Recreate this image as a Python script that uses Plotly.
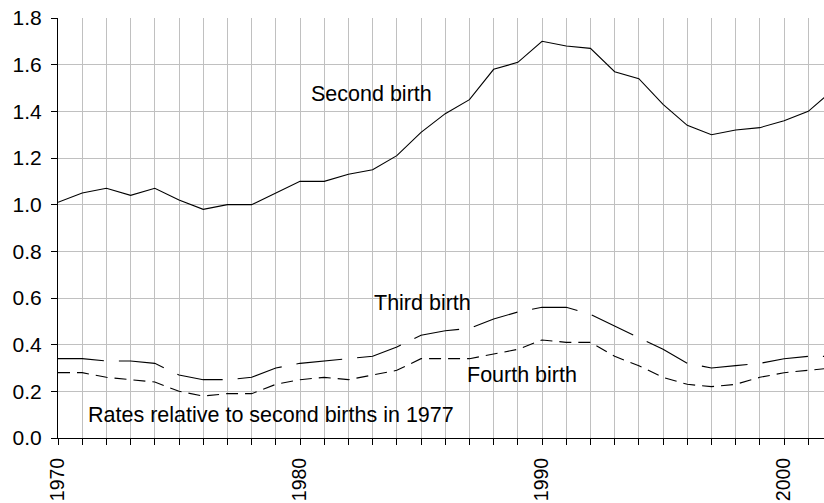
import plotly.graph_objects as go

years = list(range(1970, 2003))

second = [1.01, 1.05, 1.07, 1.04, 1.07, 1.02, 0.98, 1.00, 1.00, 1.05, 1.10,
          1.10, 1.13, 1.15, 1.21, 1.31, 1.39, 1.45, 1.58, 1.61, 1.70, 1.68,
          1.67, 1.57, 1.54, 1.43, 1.34, 1.30, 1.32, 1.33, 1.36, 1.40, 1.49]
third = [0.34, 0.34, 0.33, 0.33, 0.32, 0.27, 0.25, 0.25, 0.26, 0.30, 0.32,
         0.33, 0.34, 0.35, 0.39, 0.44, 0.46, 0.47, 0.51, 0.54, 0.56, 0.56,
         0.53, 0.48, 0.43, 0.38, 0.32, 0.30, 0.31, 0.32, 0.34, 0.35, 0.35]
fourth = [0.28, 0.28, 0.26, 0.25, 0.24, 0.20, 0.18, 0.19, 0.19, 0.23, 0.25,
          0.26, 0.25, 0.27, 0.29, 0.34, 0.34, 0.34, 0.36, 0.38, 0.42, 0.41,
          0.41, 0.35, 0.31, 0.26, 0.23, 0.22, 0.23, 0.26, 0.28, 0.29, 0.30]

fam = "Arial, Liberation Sans, sans-serif"
fnt = dict(family=fam, size=21.5, color="black")
ytickfnt = dict(family=fam, size=21, color="black")
xtickfnt = dict(family=fam, size=19.5, color="black")

fig = go.Figure()
fig.add_trace(go.Scatter(x=years, y=second, mode="lines",
                         line=dict(color="black", width=1.1)))
fig.add_trace(go.Scatter(x=years, y=third, mode="lines",
                         line=dict(color="black", width=1.1, dash="46px,15px")))
fig.add_trace(go.Scatter(x=years, y=fourth, mode="lines",
                         line=dict(color="black", width=1.1, dash="12px,7px")))

# labels on the plot
fig.add_annotation(x=1982.95, y=1.475, text="Second birth", showarrow=False, font=fnt)
fig.add_annotation(x=1985.04, y=0.58, text="Third birth", showarrow=False, font=fnt)
fig.add_annotation(x=1989.16, y=0.27, text="Fourth birth", showarrow=False, font=fnt)
fig.add_annotation(x=1978.82, y=0.10, text="Rates relative to second births in 1977",
                   showarrow=False, font=fnt)

fig.update_layout(
    width=824, height=503,
    margin=dict(l=58, r=0, t=18, b=65),
    paper_bgcolor="white", plot_bgcolor="white",
    showlegend=False,
    font=fnt,
    xaxis=dict(range=[1970, 2001.65], dtick=10, tick0=1970, automargin=False,
               tickangle=-90, ticks="outside", ticklen=6, tickcolor="black",
               tickfont=xtickfnt,
               showline=True, linecolor="black", linewidth=1,
               showgrid=True, gridcolor="#c0c0c0", gridwidth=1, zeroline=False,
               minor=dict(dtick=1, showgrid=True, gridcolor="#c0c0c0",
                          ticks="outside", ticklen=6, tickcolor="black"),
               ticklabelstandoff=5),
    yaxis=dict(range=[0, 1.8], dtick=0.2, tickformat=".1f", automargin=False,
               ticks="outside", ticklen=6, tickcolor="black",
               tickfont=ytickfnt,
               showline=True, linecolor="black", linewidth=1,
               showgrid=True, gridcolor="#c0c0c0", gridwidth=1, zeroline=False,
               ticklabelstandoff=5),
)

# drop the default 8px page margin so the figure sits at the window corner
fig.write_html("out.html", config={"displayModeBar": False},
               post_script="document.body.style.margin='0';")
